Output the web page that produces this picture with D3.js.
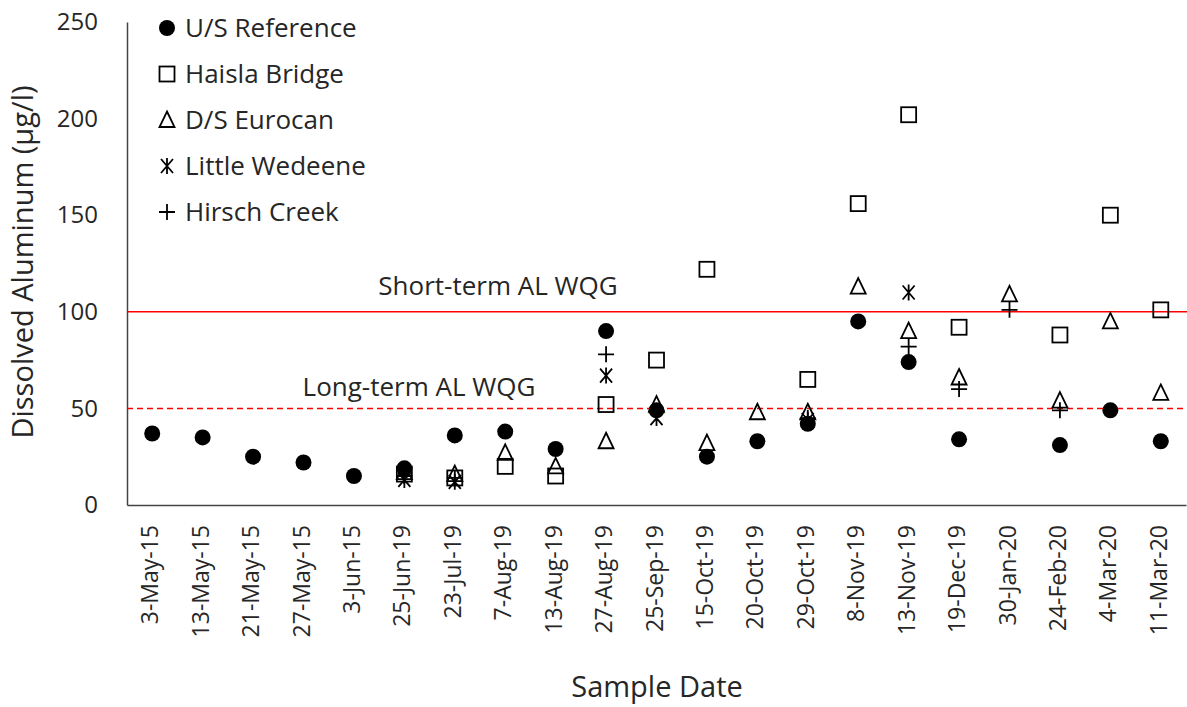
<!DOCTYPE html>
<html>
<head>
<meta charset="utf-8">
<script src="https://cdn.jsdelivr.net/npm/d3@7"></script>
<style>
  body { margin: 0; background: #fff; }
  svg { display: block; font-family: "Open Sans", Lato, sans-serif; }
</style>
</head>
<body>
<svg id="chart" width="1187" height="707"></svg>
<script>
const dates = ['3-May-15', '13-May-15', '21-May-15', '27-May-15', '3-Jun-15', '25-Jun-19',
  '23-Jul-19', '7-Aug-19', '13-Aug-19', '27-Aug-19', '25-Sep-19', '15-Oct-19', '20-Oct-19',
  '29-Oct-19', '8-Nov-19', '13-Nov-19', '19-Dec-19', '30-Jan-20', '24-Feb-20', '4-Mar-20', '11-Mar-20'];

const usReference = [37, 35, 25, 22, 15, 19, 36, 38, 29, 90, 49, 25, 33, 42, 95, 74, 34, null, 31, 49, 33];
const haislaBridge = [null, null, null, null, null, 16, 14, 20, 15, 52, 75, 122, null, 65, 156, 202, 92, null, 88, 150, 101];
const dsEurocan = [null, null, null, null, null, 17, 16, 27, 20, 33, 52, 32, 48, 48, 113, 90, 66, 109, 54, 95, 58];
const littleWedeene = [null, null, null, null, null, 13, 12, null, null, 67, 45, null, null, 44, null, 110, null, null, null, null, null];
const hirschCreek = [null, null, null, null, null, 15, 14, null, null, 78, 48, null, null, 45, null, 82, 60, 101, 49, null, null];

const yTicks = [0, 50, 100, 150, 200, 250];
const shortTermWQG = 100;
const longTermWQG = 50;

const seriesList = [
  { name: 'U/S Reference', values: usReference, shape: 'circle' },
  { name: 'Haisla Bridge', values: haislaBridge, shape: 'square' },
  { name: 'D/S Eurocan', values: dsEurocan, shape: 'triangle' },
  { name: 'Little Wedeene', values: littleWedeene, shape: 'asterisk' },
  { name: 'Hirsch Creek', values: hirschCreek, shape: 'plus' },
];

const svg = d3.select('#chart');
const plotLeft = 127;
const plotRight = 1186;
const plotTop = 22;
const plotBottom = 505;
const textColor = '#262626';

const x = d3.scaleBand().domain(dates).range([plotLeft, plotRight]);
const y = d3.scaleLinear().domain([0, 250]).range([plotBottom, plotTop]);

// draw a marker centred at 0,0
function drawMarker(g, shape) {
  if (shape === 'circle') {
    g.append('circle').attr('r', 8).attr('fill', '#000');
  } else if (shape === 'square') {
    g.append('rect').attr('x', -7.5).attr('y', -7.5).attr('width', 15).attr('height', 15)
      .attr('fill', 'none').attr('stroke', '#000').attr('stroke-width', 1.8);
  } else if (shape === 'triangle') {
    g.append('path').attr('d', 'M0,-8.5L7.5,7L-7.5,7Z')
      .attr('fill', 'none').attr('stroke', '#000').attr('stroke-width', 1.8);
  } else if (shape === 'asterisk') {
    g.append('path').attr('d', 'M-6,-7L6,7M6,-7L-6,7M0,-8L0,8')
      .attr('stroke', '#000').attr('stroke-width', 1.8);
  } else {
    g.append('path').attr('d', 'M-8,0L8,0M0,-8L0,8')
      .attr('stroke', '#000').attr('stroke-width', 1.8);
  }
}

// y axis
const yAxis = svg.append('g')
  .attr('transform', `translate(${plotLeft},0)`)
  .call(d3.axisLeft(y).tickValues(yTicks).tickSize(0).tickPadding(29));
yAxis.select('.domain').attr('stroke', '#444').attr('stroke-width', 1.5);
yAxis.selectAll('text').attr('font-size', 24).attr('fill', textColor)
  .attr('font-family', '"Open Sans", Lato, sans-serif');

// x axis
const xAxis = svg.append('g')
  .attr('transform', `translate(0,${plotBottom})`)
  .call(d3.axisBottom(x).tickSize(0).tickPadding(0));
xAxis.select('.domain').attr('stroke', '#444').attr('stroke-width', 1.5);
xAxis.selectAll('text')
  .attr('font-size', 23).attr('fill', textColor)
  .attr('font-family', '"Open Sans", Lato, sans-serif')
  .attr('transform', 'rotate(-90)')
  .attr('text-anchor', 'end')
  .attr('x', -20).attr('y', -2).attr('dy', '0.35em');

// guideline lines
svg.append('line')
  .attr('x1', plotLeft).attr('x2', 1187)
  .attr('y1', y(shortTermWQG)).attr('y2', y(shortTermWQG))
  .attr('stroke', '#ff0000').attr('stroke-width', 1.5);
svg.append('line')
  .attr('x1', plotLeft).attr('x2', 1187)
  .attr('y1', y(longTermWQG)).attr('y2', y(longTermWQG))
  .attr('stroke', '#ff0000').attr('stroke-width', 1.5)
  .attr('stroke-dasharray', '6,4');

svg.append('text').attr('x', 498).attr('y', y(shortTermWQG) - 17)
  .attr('text-anchor', 'middle').attr('font-size', 26).attr('fill', textColor)
  .text('Short-term AL WQG');
svg.append('text').attr('x', 419).attr('y', y(longTermWQG) - 12)
  .attr('text-anchor', 'middle').attr('font-size', 26).attr('fill', textColor)
  .text('Long-term AL WQG');

// points
seriesList.forEach((s) => {
  s.values.forEach((v, i) => {
    if (v === null) return;
    const g = svg.append('g')
      .attr('transform', `translate(${x(dates[i]) + x.bandwidth() / 2},${y(v)})`);
    drawMarker(g, s.shape);
  });
});

// legend
seriesList.forEach((s, i) => {
  const ly = 28 + i * 46;
  const g = svg.append('g').attr('transform', `translate(167,${ly})`);
  drawMarker(g, s.shape);
  svg.append('text').attr('x', 185).attr('y', ly).attr('dy', '0.35em')
    .attr('font-size', 26).attr('fill', textColor).text(s.name);
});

// axis titles
svg.append('text')
  .attr('transform', 'translate(33,262) rotate(-90)')
  .attr('text-anchor', 'middle').attr('font-size', 29).attr('fill', textColor)
  .text('Dissolved Aluminum (µg/l)');
svg.append('text')
  .attr('x', 657).attr('y', 697)
  .attr('text-anchor', 'middle').attr('font-size', 29).attr('fill', textColor)
  .text('Sample Date');
</script>
</body>
</html>
